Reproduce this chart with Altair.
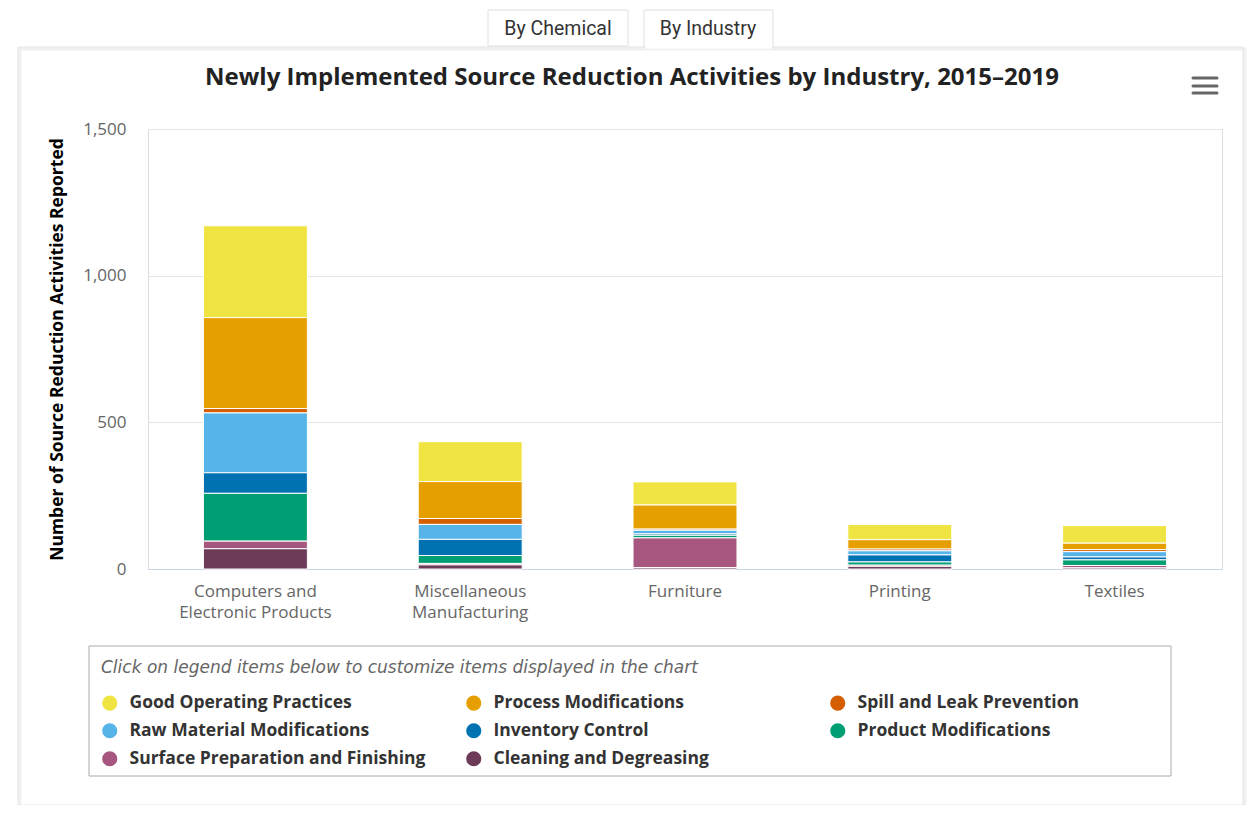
import altair as alt
import pandas as pd

industries = ["Computers and Electronic Products", "Miscellaneous Manufacturing",
              "Furniture", "Printing", "Textiles"]
activities = ["Good Operating Practices", "Process Modifications", "Spill and Leak Prevention",
              "Raw Material Modifications", "Inventory Control", "Product Modifications",
              "Surface Preparation and Finishing", "Cleaning and Degreasing"]
colors = ["#F0E442", "#E69F00", "#D55E00", "#56B4E9", "#0072B2", "#009E73",
          "#A6567F", "#6D3B57"]

good = [313, 136, 79, 52, 60]
process = [310, 126, 82, 32, 22]
spill = [15, 20, 4, 6, 7]
raw = [204, 51, 12, 14, 18]
inventory = [70, 55, 5, 24, 10]
product = [163, 27, 9, 11, 19]
surface = [26, 5, 101, 4, 8]
cleaning = [69, 14, 5, 9, 4]

title_text = "Newly Implemented Source Reduction Activities by Industry, 2015–2019"
y_title = "Number of Source Reduction Activities Reported"
legend_title = "Click on legend items below to customize items displayed in the chart"
tab_labels = ["By Chemical", "By Industry"]

series = [good, process, spill, raw, inventory, product, surface, cleaning]
rows = []
for i, (act, vals) in enumerate(zip(activities, series)):
    for ind, v in zip(industries, vals):
        rows.append({"industry": ind, "activity": act, "idx": i, "value": v})
df = pd.DataFrame(rows)

FONT = "Open Sans"
one = pd.DataFrame({"a": [0]})

label_expr = ("datum.label == 'Computers and Electronic Products' ? ['Computers and', 'Electronic Products'] : "
              "datum.label == 'Miscellaneous Manufacturing' ? ['Miscellaneous', 'Manufacturing'] : datum.label")

bars = alt.Chart(df).mark_bar(stroke="white", strokeWidth=1).encode(
    x=alt.X("industry:N", sort=industries,
            scale=alt.Scale(paddingInner=0.516, paddingOuter=0.258),
            axis=alt.Axis(title=None, labelAngle=0, labelExpr=label_expr, labelFont=FONT,
                          labelFontSize=17, labelColor="#666", labelPadding=14,
                          labelLineHeight=21, domainColor="#ccd6eb", ticks=False,
                          labelLimit=300)),
    y=alt.Y("value:Q", stack="zero", scale=alt.Scale(domain=[0, 1500], nice=False),
            axis=alt.Axis(title=y_title,
                          titleFont=FONT, titleFontSize=17.5, titleFontWeight="bold",
                          titleColor="#000", titlePadding=16, labelFont=FONT,
                          labelFontSize=17, labelColor="#666", labelPadding=22,
                          values=[0, 500, 1000, 1500],
                          labelExpr="format(datum.value, ',')", domain=False,
                          ticks=False, gridColor="#e6e6e6")),
    color=alt.Color("activity:N", sort=activities,
                    scale=alt.Scale(domain=activities, range=colors),
                    legend=alt.Legend(
                        orient="none", legendX=-59, legendY=519, columns=3,
                        gridAlign="all", direction="horizontal",
                        title=legend_title,
                        titleFont="DejaVu Sans", titleFontStyle="italic", titleFontWeight="normal",
                        titleColor="#666", titleFontSize=17, titleLimit=1100,
                        titlePadding=17, labelFont=FONT, labelFontWeight="bold",
                        labelFontSize=17.5, labelColor="#333", labelLimit=400,
                        symbolType="circle", symbolSize=230, symbolStrokeWidth=0,
                        symbolOpacity=1, labelOffset=11, columnPadding=39, rowPadding=9,
                        padding=12)),
    order=alt.Order("idx:Q", sort="descending"),
)

# page decorations (card, tabs, menu icon, heading, legend frame)
card_shadow = alt.Chart(one).mark_rect(fillOpacity=0, stroke="#f0f0f0", strokeWidth=3).encode(
    x=alt.value(-128), x2=alt.value(1097), y=alt.value(-80), y2=alt.value(678))
card = alt.Chart(one).mark_rect(fillOpacity=0, stroke="#e2e2e2", strokeWidth=1).encode(
    x=alt.value(-130), x2=alt.value(1095), y=alt.value(-82), y2=alt.value(676))
legend_box = alt.Chart(one).mark_rect(fillOpacity=0, stroke="#aaaaaa", strokeWidth=1).encode(
    x=alt.value(-59), x2=alt.value(1023), y=alt.value(517), y2=alt.value(647))
tab1 = alt.Chart(one).mark_rect(fill="white", stroke="#e0e0e0", strokeWidth=1).encode(
    x=alt.value(340), x2=alt.value(480), y=alt.value(-119), y2=alt.value(-83))
tab2 = alt.Chart(one).mark_rect(fill="white", stroke="#e0e0e0", strokeWidth=1).encode(
    x=alt.value(496), x2=alt.value(625), y=alt.value(-119), y2=alt.value(-82))
tab2_open = alt.Chart(one).mark_rule(stroke="white", strokeWidth=3).encode(
    x=alt.value(497), x2=alt.value(624), y=alt.value(-82))
tab_text1 = alt.Chart(one).mark_text(text=tab_labels[0], font="Roboto", fontSize=19.5,
                                     color="#333").encode(x=alt.value(410), y=alt.value(-100))
tab_text2 = alt.Chart(one).mark_text(text=tab_labels[1], font="Roboto", fontSize=19.5,
                                     color="#333").encode(x=alt.value(560), y=alt.value(-100))
menu = alt.layer(*[
    alt.Chart(one).mark_rule(stroke="#666", strokeWidth=3, strokeCap="round").encode(
        x=alt.value(1045), x2=alt.value(1069), y=alt.value(yy))
    for yy in (-51, -43, -36)
])
heading = alt.Chart(one).mark_text(text=title_text, font=FONT, fontSize=24, fontWeight="bold",
                                   color="#222", align="center", baseline="middle").encode(
    x=alt.value(484), y=alt.value(-51))

chart = alt.layer(card_shadow, card, legend_box, tab1, tab2, tab2_open, tab_text1, tab_text2,
                  menu, heading, bars).properties(
    width=1074, height=440,
    autosize=alt.AutoSizeParams(type="none"),
    padding={"left": 140, "top": 121, "right": 25, "bottom": 236},
).configure_view(stroke="#cccccc", strokeWidth=1).configure(background="white")

chart.save("out.html", embed_options={"renderer": "svg", "actions": False})
